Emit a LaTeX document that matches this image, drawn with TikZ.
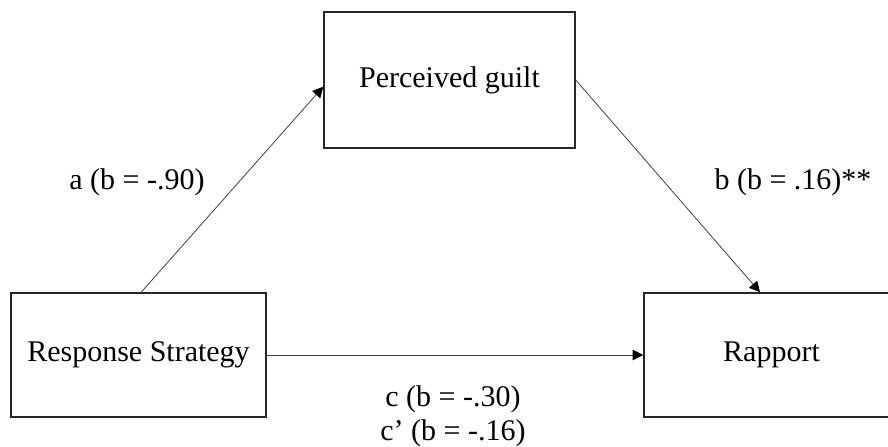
\documentclass[tikz,border=0pt]{standalone}
\usepackage{fontspec}
\setmainfont{Liberation Serif}
\usetikzlibrary{arrows.meta}

\tikzset{
  var/.style={draw=black!85, line width=1.1pt, rectangle, inner sep=0pt,
    font=\fontsize{22.5}{27}\selectfont},
  path/.style={draw=black!75, line width=0.6pt,
    -{Triangle[length=8pt, width=8pt, fill=black, color=black]}},
  coef/.style={font=\fontsize{22.5}{27}\selectfont}
}

\begin{document}
\begin{tikzpicture}[x=0.75pt, y=-0.75pt]
    \useasboundingbox (0, 0) rectangle (888, 446);

    \node [var, minimum width=188.25pt, minimum height=102pt] (guilt) at (449.5, 80) {Perceived guilt};
    \node [var, minimum width=191.25pt, minimum height=93pt] (strategy) at (138.5, 355) {Response Strategy};
    \node [var, minimum width=191.25pt, minimum height=93pt] (rapport) at (771.5, 355) {Rapport};

    \draw [path] ([xshift=2pt]strategy.north) -- ([yshift=-5pt]guilt.west);
    \draw [path] (guilt.east) -- ([xshift=-8.6pt]rapport.north);
    \draw [path] (strategy.east) -- (rapport.west);

    \node [coef] (a) at (137, 182) {a (b = -.90)};
    \node [coef] (b) at (793, 182) {b (b = .16)**};
    \node [coef] (c) at (453, 399) {c (b = -.30)};
    \node [coef] (c') at (453, 433) {c’ (b = -.16)};
  \end{tikzpicture}
\end{document}
